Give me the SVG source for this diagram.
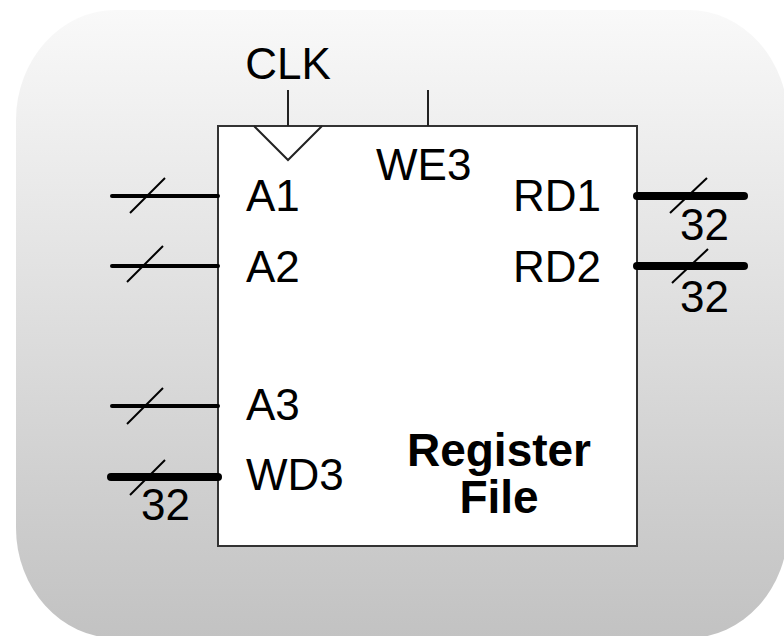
<svg xmlns="http://www.w3.org/2000/svg" width="784" height="636" viewBox="0 0 784 636">
<defs>
<linearGradient id="bg" x1="0" y1="0" x2="0" y2="1">
<stop offset="0" stop-color="#f9f9f9"/>
<stop offset="1" stop-color="#c2c2c2"/>
</linearGradient>
</defs>
<style>
.t{font-family:"Liberation Sans",Arial,sans-serif;font-size:44px;fill:#000}
.b{font-family:"Liberation Sans",Arial,sans-serif;font-size:46px;font-weight:bold;fill:#000}
.w{stroke:#000;stroke-width:4;stroke-linecap:round;fill:none}
.bus{stroke:#000;stroke-width:8;stroke-linecap:round;fill:none}
.s{stroke:#000;stroke-width:2;fill:none}
.thin{stroke:#222;stroke-width:2;fill:none}
</style>
<rect x="16" y="10" width="772" height="628" rx="100" ry="110" fill="url(#bg)"/>
<g id="regfile">
<rect x="218" y="126" width="419" height="420" fill="#fff" stroke="#333" stroke-width="2"/>
<polyline class="thin" points="254,126 288,160 322,126"/>
<text class="t" x="246" y="211">A1</text>
<text class="t" x="246" y="282">A2</text>
<text class="t" x="246" y="420">A3</text>
<text class="t" x="246" y="490">WD3</text>
<text class="t" x="376" y="180">WE3</text>
<text class="t" x="513" y="211">RD1</text>
<text class="t" x="513" y="282">RD2</text>
<text class="b" x="499" y="466" text-anchor="middle">Register</text>
<text class="b" x="499" y="513" text-anchor="middle">File</text>
</g>
<g id="clk">
<text class="t" x="288" y="79" text-anchor="middle">CLK</text>
</g>
<g id="connectors">
<line class="thin" x1="288" y1="90" x2="288" y2="126"/>
<line class="thin" x1="428" y1="90" x2="428" y2="126"/>
<line class="w" x1="112" y1="196" x2="218" y2="196"/>
<line class="s" x1="130" y1="213" x2="165" y2="178"/>
<line class="w" x1="112" y1="266" x2="218" y2="266"/>
<line class="s" x1="127" y1="282" x2="163" y2="246"/>
<line class="w" x1="112" y1="406" x2="218" y2="406"/>
<line class="s" x1="127" y1="424" x2="163" y2="388"/>
<line class="bus" x1="111" y1="477" x2="218" y2="477"/>
<line class="s" x1="130" y1="495" x2="165" y2="460"/>
<text class="t" x="141" y="520">32</text>
<line class="bus" x1="637" y1="196" x2="744" y2="196"/>
<line class="s" x1="670" y1="213" x2="707" y2="178"/>
<text class="t" x="680" y="240">32</text>
<line class="bus" x1="637" y1="266" x2="744" y2="266"/>
<line class="s" x1="672" y1="283" x2="708" y2="249"/>
<text class="t" x="680" y="312">32</text>
</g>
</svg>
